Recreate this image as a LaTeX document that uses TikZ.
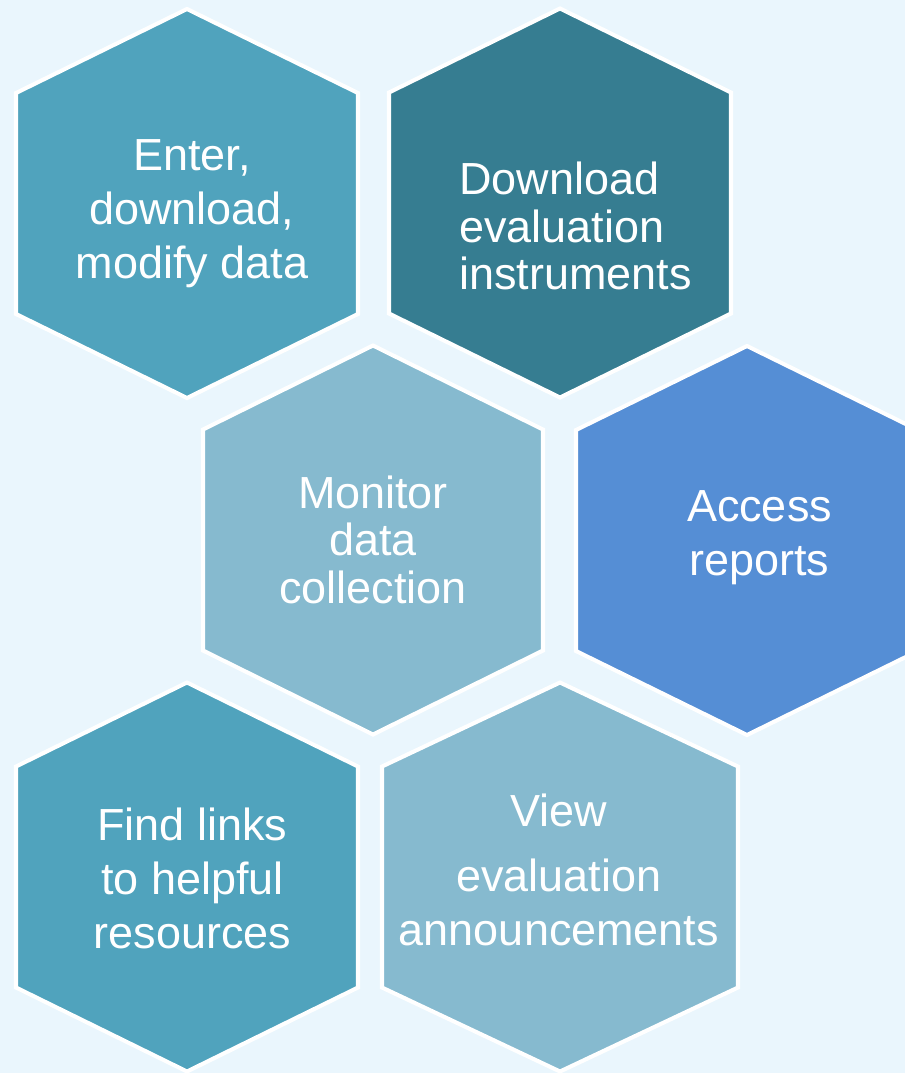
\documentclass[tikz,border=0pt]{standalone}
\usepackage{fontspec}
\setmainfont{Liberation Sans}
\definecolor{bgblue}{HTML}{EAF6FD}
\definecolor{tealmid}{HTML}{50A3BD}
\definecolor{tealdark}{HTML}{367D91}
\definecolor{tealpale}{HTML}{86BACF}
\definecolor{cornflower}{HTML}{558ED5}
\begin{document}
\begin{tikzpicture}[x=0.02cm, y=-0.02cm,
    hexcell/.style={draw=white, line width=2.3pt, line join=miter},
    celltext/.style={text=white, inner sep=0pt, align=center, font=\fontsize{25.6}{30.7}\selectfont},
    tight/.style={font=\fontsize{25.6}{27}\selectfont}]
    \useasboundingbox (0,0) rectangle (905,1073);
    \clip (0,0) rectangle (905,1073);
    \fill [bgblue] (0,0) rectangle (905,1073);
    % the six cells: centre x / centre y / half width / colour
    \foreach \cx/\cy/\hw/\col in {187/203.5/171/tealmid, 560/203/171/tealdark,
        373/540/170/tealpale, 747/540.5/171/cornflower,
        187/877/171/tealmid, 560/877/178/tealpale}
      \filldraw [hexcell, fill=\col] (\cx,\cy-194.5) -- ++(\hw,84) -- ++(0,221)
        -- ++(-\hw,84) -- ++(-\hw,-84) -- ++(0,-221) -- cycle;
    \path (192,214) node (enter) [celltext] {Enter,\\download,\\modify data}
    (459,226) node (download) [celltext, tight, anchor=west, align=left] {Download\\evaluation\\instruments}
    (373,539.5) node (monitor) [celltext, tight] {Monitor\\data\\collection}
    (759.5,538) node (access) [celltext] {Access\\reports}
    (192.5,878) node (links) [celltext] {Find links\\to helpful\\resources}
    (559,870) node (announce) [celltext] {View\\[6pt]evaluation\\announcements};
\end{tikzpicture}
\end{document}
